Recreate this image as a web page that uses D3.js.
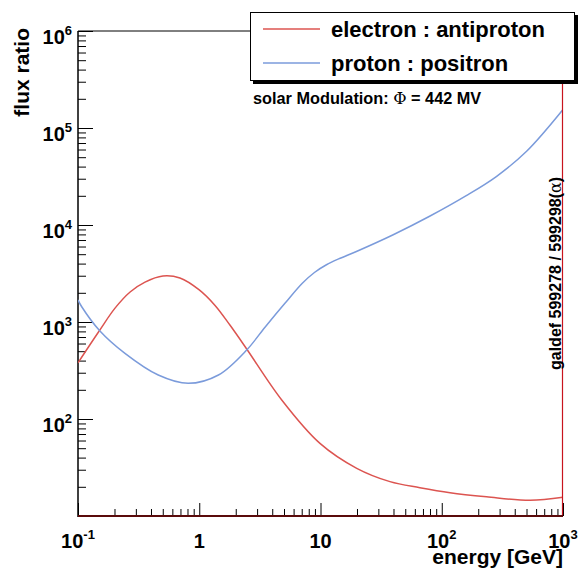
<!DOCTYPE html>
<html>
<head>
<meta charset="utf-8">
<script src="https://cdn.jsdelivr.net/npm/d3@7"></script>
<style>
  body { margin: 0; background: #fff; }
  svg { display: block; font-family: "Liberation Sans", Arial, Helvetica, sans-serif; font-weight: bold; }
</style>
</head>
<body>
<svg id="chart" width="581" height="568"></svg>
<script>
(function () {
    'use strict';

    // values
    const electronEnergy = [0.1, 0.15, 0.202, 0.269, 0.357, 0.502, 0.693, 1.0, 1.35, 1.79, 2.43, 4.79, 9.9, 19.9, 37.4, 66, 117, 234, 535, 1000];
    const electronRatio  = [380, 813, 1390, 2040, 2580, 2980, 2840, 2140, 1480, 930, 540, 157, 56, 31, 22.6, 19.6, 17.4, 15.8, 14.5, 15.6];

    const protonEnergy = [0.1, 0.107, 0.151, 0.244, 0.459, 0.81, 1.44, 2.46, 3.5, 5.09, 7.08, 8.91, 11.2, 14.1, 20, 39.8, 79.4, 158, 282, 501, 1000];
    const protonRatio  = [1690, 1445, 813, 475, 284, 233, 284, 514, 890, 1560, 2510, 3240, 3890, 4470, 5370, 7940, 12300, 19950, 31600, 57500, 155000];

    const xMajor = [0.1, 1, 10, 100, 1000];
    const xLabels = [["10", "-1"], ["1", ""], ["10", ""], ["10", "2"], ["10", "3"]];
    const yMajor = [1e2, 1e3, 1e4, 1e5, 1e6];
    const yLabels = [["10", "2"], ["10", "3"], ["10", "4"], ["10", "5"], ["10", "6"]];

    const legendNames = ["electron : antiproton", "proton : positron"];
    const colors = ["#dc5450", "#7b9bdb"];

    const LEFT = 78, RIGHT = 563, TOP = 31, BOTTOM = 516;

    var svg = d3.select("#chart");

    var x = d3.scaleLog().domain([0.1, 1000]).range([LEFT, RIGHT]);
    var y = d3.scaleLog().domain([10, 1e6]).range([BOTTOM, TOP]);

    function minors(lo, hi) {
        let out = [];
        for (let d = lo; d < hi; d *= 10) {
            for (let k = 2; k <= 9; k++) out.push(d * k);
        }
        return out;
    }

    svg.append("rect").attr("width", 581).attr("height", 568).attr("fill", "#fff");

    // clip for curves
    svg.append("clipPath").attr("id", "plotclip")
        .append("rect").attr("x", LEFT).attr("y", TOP)
        .attr("width", RIGHT - LEFT).attr("height", BOTTOM - TOP);

    // y axis ticks (inward)
    svg.append("g").attr("transform", `translate(${LEFT},0)`)
        .call(d3.axisLeft(y).tickValues(minors(10, 1e6)).tickFormat("").tickSizeInner(-8).tickSizeOuter(0))
        .call(g => g.select(".domain").remove());
    svg.append("g").attr("transform", `translate(${LEFT},0)`)
        .call(d3.axisLeft(y).tickValues(yMajor).tickFormat("").tickSizeInner(-15).tickSizeOuter(0))
        .call(g => g.select(".domain").remove());

    // x axis ticks (inward)
    svg.append("g").attr("transform", `translate(0,${BOTTOM})`)
        .call(d3.axisBottom(x).tickValues(minors(0.1, 1000)).tickFormat("").tickSizeInner(-7).tickSizeOuter(0))
        .call(g => g.select(".domain").remove());
    svg.append("g").attr("transform", `translate(0,${BOTTOM})`)
        .call(d3.axisBottom(x).tickValues(xMajor).tickFormat("").tickSizeInner(-13).tickSizeOuter(0))
        .call(g => g.select(".domain").remove());

    svg.selectAll(".tick line").attr("stroke", "#000").attr("stroke-width", 1);

    // frame
    svg.append("line").attr("x1", LEFT).attr("x2", RIGHT).attr("y1", TOP).attr("y2", TOP)
        .attr("stroke", "#000").attr("stroke-width", 1);
    svg.append("line").attr("x1", LEFT).attr("x2", LEFT).attr("y1", TOP).attr("y2", BOTTOM + 1)
        .attr("stroke", "#000").attr("stroke-width", 1.5);

    // curves
    var line = d3.line()
        .x(d => x(d[0]))
        .y(d => y(d[1]))
        .curve(d3.curveCatmullRom.alpha(0.5));

    var series = [
        d3.zip(electronEnergy, electronRatio),
        d3.zip(protonEnergy, protonRatio)
    ];

    series.forEach(function (s, i) {
        svg.append("path")
            .attr("clip-path", "url(#plotclip)")
            .attr("d", line(s))
            .attr("fill", "none")
            .attr("stroke", colors[i])
            .attr("stroke-width", 1.5);
    });

    // red histogram edge on right and bottom
    svg.append("line").attr("x1", x(1000) - 0.5).attr("x2", x(1000) - 0.5)
        .attr("y1", TOP).attr("y2", BOTTOM)
        .attr("stroke", "#c8141e").attr("stroke-width", 1.2);
    svg.append("line").attr("x1", LEFT).attr("x2", RIGHT).attr("y1", BOTTOM).attr("y2", BOTTOM)
        .attr("stroke", "#5a0a0a").attr("stroke-width", 2);

    // y tick labels
    yMajor.forEach(function (v, i) {
        let t = svg.append("text")
            .attr("x", 72).attr("y", y(v) + 13)
            .attr("text-anchor", "end")
            .attr("font-size", 20);
        t.append("tspan").text(yLabels[i][0]);
        t.append("tspan").attr("dy", -9).attr("font-size", 13).text(yLabels[i][1]);
    });

    // x tick labels
    xMajor.forEach(function (v, i) {
        let t = svg.append("text")
            .attr("x", x(v)).attr("y", 548)
            .attr("text-anchor", "middle")
            .attr("font-size", 20);
        t.append("tspan").text(xLabels[i][0]);
        if (xLabels[i][1]) t.append("tspan").attr("dy", -9).attr("font-size", 13).text(xLabels[i][1]);
    });

    // axis titles
    svg.append("text")
        .attr("transform", "translate(29,28) rotate(-90)")
        .attr("text-anchor", "end")
        .attr("font-size", 21)
        .text("flux ratio");
    svg.append("text")
        .attr("x", RIGHT).attr("y", 564)
        .attr("text-anchor", "end")
        .attr("font-size", 21)
        .text("energy [GeV]");

    // side note
    var side = svg.append("text")
        .attr("transform", "translate(561,370) rotate(-90)")
        .attr("font-size", 16);
    side.append("tspan").text("galdef 599278 / 599298(");
    side.append("tspan").attr("font-weight", "normal").attr("font-family", "DejaVu Serif, serif").text("α");
    side.append("tspan").text(")");

    // legend box with shadow
    svg.append("rect").attr("x", 253).attr("y", 15).attr("width", 325).attr("height", 69).attr("fill", "#000");
    svg.append("rect").attr("x", 250.5).attr("y", 12.5).attr("width", 324).attr("height", 68)
        .attr("fill", "#fff").attr("stroke", "#000").attr("stroke-width", 1);

    legendNames.forEach(function (name, i) {
        let ly = 29 + i * 34;
        svg.append("line").attr("x1", 263).attr("x2", 320).attr("y1", ly).attr("y2", ly)
            .attr("stroke", colors[i]).attr("stroke-width", 1.5);
        svg.append("text").attr("x", 331).attr("y", ly + 7.5)
            .attr("font-size", 22).text(name);
    });

    // solar modulation note
    var note = svg.append("text").attr("x", 253).attr("y", 104).attr("font-size", 16.3);
    note.append("tspan").text("solar Modulation: ");
    note.append("tspan").attr("font-weight", "normal").attr("font-family", "DejaVu Serif, serif").text("Φ");
    note.append("tspan").text(" = 442 MV");
})();
</script>
</body>
</html>
